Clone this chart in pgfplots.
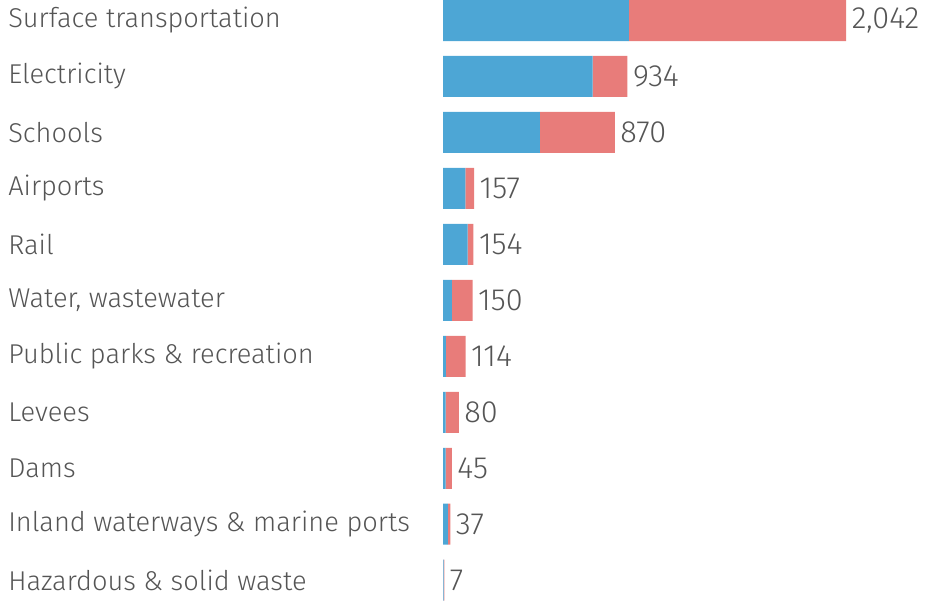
\documentclass[border=0pt]{standalone}
\usepackage{pgfplots}
\pgfplotsset{compat=1.18}
\usepackage{fontspec}
\setmainfont{Fira Sans Light}
\definecolor{barblue}{RGB}{77,166,213}
\definecolor{barred}{RGB}{232,124,122}
\definecolor{txt}{RGB}{85,85,85}
\begin{document}
\begin{tikzpicture}
\begin{axis}[
    xbar stacked,
    scale only axis,
    width=699.75pt, height=450pt,
    xmin=-2244, xmax=2482,
    ymin=-0.34, ymax=10.38,
    y dir=reverse,
    bar width=30.75pt,
    axis line style={draw=none},
    tick style={draw=none},
    xtick=\empty,
    ytick={0,...,10},
    yticklabels={Surface transportation, Electricity, Schools, Airports, Rail,
        {Water, wastewater}, Public parks \& recreation, Levees, Dams,
        Inland waterways \& marine ports, Hazardous \& solid waste},
    yticklabel style={anchor=west, xshift=2.7pt, font=\fontsize{20.4}{24}\selectfont, text=txt},
    clip=false,
]
% lower segment (blue)
\addplot[fill=barblue, draw=none] coordinates {
    (942,0) (758,1) (491,2) (113,3) (125,4) (45,5) (15,6) (13,7) (13,8) (25,9) (3,10)};
% upper segment (red)
\addplot[fill=barred, draw=none] coordinates {
    (1100,0) (176,1) (379,2) (44,3) (29,4) (105,5) (99,6) (67,7) (32,8) (12,9) (4,10)};
% near-zero segment carrying the totals at the bar ends
\addplot[draw=none, fill=none,
    nodes near coords,
    point meta=explicit symbolic,
    every node near coord/.append style={anchor=west, inner sep=4pt,
        font=\fontsize{23}{27}\selectfont, text=txt}]
    coordinates {
    (0.01,0) [{2,042}]
    (0.01,1) [934]
    (0.01,2) [870]
    (0.01,3) [157]
    (0.01,4) [154]
    (0.01,5) [150]
    (0.01,6) [114]
    (0.01,7) [80]
    (0.01,8) [45]
    (0.01,9) [37]
    (0.01,10) [7]};
\end{axis}
\end{tikzpicture}
\end{document}
